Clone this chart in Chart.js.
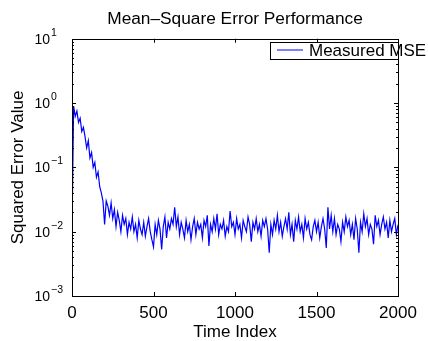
<!DOCTYPE html>
<html>
<head>
<meta charset="utf-8">
<script src="https://cdn.jsdelivr.net/npm/chart.js@4/dist/chart.umd.min.js"></script>
<style>
  html, body { margin: 0; padding: 0; background: #fff; }
</style>
</head>
<body>
<canvas id="chart" width="428" height="341"></canvas>
<script>
// MSE, one value every 10 time steps (0..2000)
const sampleStep = 10;
const mse = [
  0.01, 0.9, 0.62, 0.75, 0.5, 0.58, 0.36, 0.42, 0.3, 0.2,
  0.26, 0.14, 0.17, 0.1, 0.12, 0.07, 0.085, 0.05, 0.04, 0.03,
  0.013, 0.03, 0.025, 0.018, 0.028, 0.016, 0.022, 0.012, 0.02, 0.015,
  0.01, 0.018, 0.013, 0.016, 0.009, 0.014, 0.011, 0.017, 0.01, 0.013,
  0.008, 0.015, 0.011, 0.009, 0.014, 0.0085, 0.012, 0.016, 0.01, 0.0075,
  0.0058, 0.013, 0.009, 0.015, 0.011, 0.0053, 0.012, 0.017, 0.008, 0.014,
  0.011, 0.016, 0.013, 0.024, 0.012, 0.017, 0.009, 0.014, 0.011, 0.008,
  0.015, 0.01, 0.013, 0.0075, 0.012, 0.016, 0.009, 0.014, 0.011, 0.013,
  0.008, 0.015, 0.012, 0.018, 0.006, 0.013, 0.01, 0.016, 0.011, 0.019,
  0.009, 0.013, 0.011, 0.015, 0.0085, 0.012, 0.01, 0.021, 0.012, 0.014,
  0.009, 0.016, 0.011, 0.013, 0.008, 0.015, 0.012, 0.01, 0.017, 0.013,
  0.007, 0.014, 0.011, 0.016, 0.01, 0.013, 0.0085, 0.015, 0.012, 0.016,
  0.011, 0.0047, 0.013, 0.009, 0.015, 0.011, 0.018, 0.01, 0.014, 0.0085,
  0.012, 0.016, 0.011, 0.02, 0.009, 0.013, 0.007, 0.015, 0.011, 0.017,
  0.01, 0.013, 0.008, 0.016, 0.011, 0.014, 0.009, 0.0075, 0.012, 0.015,
  0.01, 0.014, 0.008, 0.012, 0.016, 0.011, 0.0056, 0.024, 0.011, 0.018,
  0.01, 0.016, 0.009, 0.013, 0.011, 0.007, 0.014, 0.01, 0.017, 0.012,
  0.015, 0.009, 0.013, 0.0075, 0.016, 0.011, 0.0047, 0.014, 0.01, 0.019,
  0.012, 0.016, 0.009, 0.013, 0.011, 0.0064, 0.018, 0.012, 0.015, 0.009,
  0.013, 0.017, 0.011, 0.014, 0.008, 0.015, 0.01, 0.013, 0.016, 0.009,
  0.0128
];
const timeIndex = mse.map((_, i) => i * sampleStep);

const xTicks = [0, 500, 1000, 1500, 2000];
const yDecades = [-3, -2, -1, 0, 1];
const seriesName = 'Measured MSE';
const titleText = 'Mean\u2013Square Error Performance';
const fontFamily = '"Liberation Sans", Arial, Helvetica, sans-serif';

// MATLAB-ish box, inward ticks, 10^n labels and the legend box
const matlabAxes = {
  id: 'matlabAxes',
  afterDraw(chart) {
    const {ctx, chartArea: a, scales: {x, y}} = chart;
    ctx.save();
    ctx.strokeStyle = '#000';
    ctx.lineWidth = 1;
    ctx.beginPath();
    xTicks.slice(1, -1).forEach(v => {
      const px = Math.round(x.getPixelForValue(v)) + 0.5;
      ctx.moveTo(px, a.bottom); ctx.lineTo(px, a.bottom - 4);
      ctx.moveTo(px, a.top); ctx.lineTo(px, a.top + 4);
    });
    yDecades.forEach(e => {
      for (let m = 1; m <= 9; m++) {
        const v = m * Math.pow(10, e);
        if (v > 10.0001) break;
        const len = m === 1 ? 4 : 2;
        const py = Math.round(y.getPixelForValue(v)) + 0.5;
        ctx.moveTo(a.left, py); ctx.lineTo(a.left + len, py);
        ctx.moveTo(a.right, py); ctx.lineTo(a.right - len, py);
      }
    });
    ctx.stroke();
    ctx.strokeRect(Math.round(a.left) + 0.5, Math.round(a.top) + 0.5,
      Math.round(a.right - a.left), Math.round(a.bottom - a.top));

    ctx.fillStyle = '#000';
    yDecades.forEach(e => {
      const py = y.getPixelForValue(Math.pow(10, e));
      ctx.font = '14px ' + fontFamily;
      ctx.textAlign = 'right';
      ctx.textBaseline = 'middle';
      ctx.fillText('10', 50, py + 1);
      ctx.font = '10.5px ' + fontFamily;
      ctx.textAlign = 'left';
      ctx.fillText(e < 0 ? '\u2212' + (-e) : String(e), 51, py - 6);
    });

    // legend (text runs past the box, as in the original figure)
    ctx.fillStyle = '#fff';
    ctx.fillRect(270, 42, 128, 17);
    ctx.strokeRect(270.5, 42.5, 128, 17);
    ctx.strokeStyle = '#0000ff';
    ctx.beginPath();
    ctx.moveTo(277, 50); ctx.lineTo(303, 50);
    ctx.stroke();
    ctx.fillStyle = '#000';
    ctx.font = '17px ' + fontFamily;
    ctx.textAlign = 'left';
    ctx.textBaseline = 'middle';
    ctx.fillText(chart.data.datasets[0].label, 309, 51);
    ctx.restore();
  }
};

let chart;
window.onload = function() {
  chart = new Chart(document.getElementById('chart'), {
    type: 'line',
    data: {
      labels: timeIndex,
      datasets: [{
        label: seriesName,
        data: mse,
        borderColor: '#0000ff',
        borderWidth: 1.2,
        pointRadius: 0,
        tension: 0,
        fill: false
      }]
    },
    options: {
      responsive: false,
      animation: false,
      devicePixelRatio: 1,
      layout: { padding: { top: 0, right: 30, bottom: 0, left: 0 } },
      plugins: {
        legend: { display: false },
        tooltip: { enabled: false },
        title: {
          display: true,
          fullSize: false,
          text: titleText,
          color: '#000',
          font: { family: fontFamily, size: 17.3, weight: 'normal' },
          padding: { top: 9, bottom: 9 }
        }
      },
      scales: {
        x: {
          type: 'linear',
          min: 0,
          max: 2000,
          afterBuildTicks: s => { s.ticks = xTicks.map(v => ({value: v})); },
          ticks: {
            color: '#000', font: { family: fontFamily, size: 17 }, padding: 7,
            maxRotation: 0, autoSkip: false, callback: v => String(v)
          },
          grid: { display: false, drawTicks: false },
          border: { display: false },
          title: {
            display: true, text: 'Time Index', color: '#000',
            font: { family: fontFamily, size: 17 },
            padding: { top: 0, bottom: -2 }
          },
          afterFit: s => { s.height = 45; }
        },
        y: {
          type: 'logarithmic',
          min: 0.001,
          max: 10,
          ticks: { display: false },
          grid: { display: false, drawTicks: false },
          border: { display: false },
          title: {
            display: true, text: 'Squared Error Value', color: '#000',
            font: { family: fontFamily, size: 17 },
            padding: { top: 8, bottom: 0 }
          },
          afterFit: s => { s.width = 72; }
        }
      }
    },
    plugins: [matlabAxes]
  });
};
</script>
</body>
</html>
